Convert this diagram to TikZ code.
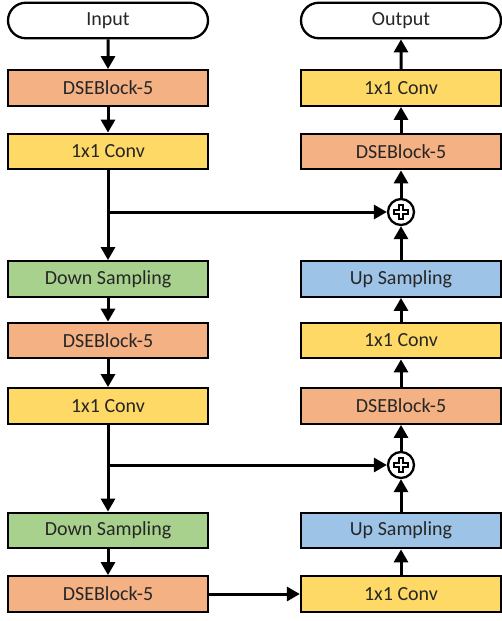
\documentclass[tikz,border=0pt]{standalone}
\usepackage{fontspec}
\setmainfont{Carlito}
\usetikzlibrary{arrows.meta,shapes.misc,calc}
\definecolor{dseorange}{HTML}{F4B183}
\definecolor{convyellow}{HTML}{FFD966}
\definecolor{downgreen}{HTML}{A9D18E}
\definecolor{upblue}{HTML}{9DC3E6}
\tikzset{
  x=1pt, y=-1pt,
  blk/.style={draw=black, line width=2.3pt, minimum width=200pt, minimum height=35.5pt,
    inner sep=0pt, font=\fontsize{20}{24}\selectfont, text=black!85},
  term/.style={blk, rounded rectangle, fill=white},
  dse/.style={blk, fill=dseorange},
  conv/.style={blk, fill=convyellow},
  down/.style={blk, fill=downgreen},
  up/.style={blk, fill=upblue},
  addnode/.style={circle, draw=black, line width=2.3pt, fill=white, minimum size=26pt, inner sep=0pt},
  flow/.style={line width=3pt, -{Triangle[length=13pt,width=14pt]}},
}
% bold cross drawn inside an adder circle
\newcommand{\plusmark}[1]{%
  \draw[line width=2pt, fill=white, line join=miter] ($(#1)+(-2,-7)$) -- ++(4,0) -- ++(0,5) -- ++(5,0) -- ++(0,4)
    -- ++(-5,0) -- ++(0,5) -- ++(-4,0) -- ++(0,-5) -- ++(-5,0) -- ++(0,-4) -- ++(5,0) -- cycle;}
\begin{document}
\begin{tikzpicture}
\useasboundingbox (0,0) rectangle (502,621);
\fill[white] (0,0) rectangle (502,621);
% encoder column
\node[term] (in) at (108,20.5) {Input};
\node[dse]  (l1) at (108,88)   {DSEBlock-5};
\node[conv] (l2) at (108,151.5){1x1 Conv};
\node[down] (l3) at (108,279)  {Down Sampling};
\node[dse]  (l4) at (108,340.5){DSEBlock-5};
\node[conv] (l5) at (108,406)  {1x1 Conv};
\node[down] (l6) at (108,530.5){Down Sampling};
\node[dse]  (l7) at (108,594)  {DSEBlock-5};
% decoder column
\node[term] (out) at (401,20.5) {Output};
\node[conv] (r1) at (401,88)   {1x1 Conv};
\node[dse]  (r2) at (401,151.5){DSEBlock-5};
\node[addnode] (p1) at (401,212) {};
\node[up]   (r3) at (401,279)  {Up Sampling};
\node[conv] (r4) at (401,340.5){1x1 Conv};
\node[dse]  (r5) at (401,406)  {DSEBlock-5};
\node[addnode] (p2) at (401,465) {};
\node[up]   (r6) at (401,530.5){Up Sampling};
\node[conv] (r7) at (401,594)  {1x1 Conv};
\plusmark{p1}
\plusmark{p2}
% main path
\draw[flow] (in) -- (l1);
\draw[flow] (l1) -- (l2);
\draw[flow] (l2) -- (l3);
\draw[flow] (l3) -- (l4);
\draw[flow] (l4) -- (l5);
\draw[flow] (l5) -- (l6);
\draw[flow] (l6) -- (l7);
\draw[flow] (l7) -- (r7);
\draw[flow] (r7) -- (r6);
\draw[flow] (r6) -- (p2);
\draw[flow] (p2) -- (r5);
\draw[flow] (r5) -- (r4);
\draw[flow] (r4) -- (r3);
\draw[flow] (r3) -- (p1);
\draw[flow] (p1) -- (r2);
\draw[flow] (r2) -- (r1);
\draw[flow] (r1) -- (out);
% skip connections
\draw[flow] (l2 |- p1) -- (p1);
\draw[flow] (l5 |- p2) -- (p2);
\end{tikzpicture}
\end{document}
